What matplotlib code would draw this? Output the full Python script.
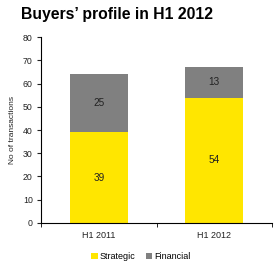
import matplotlib.pyplot as plt
import numpy as np

plt.rcParams['font.family'] = ['Liberation Sans', 'DejaVu Sans']

periods = ['H1 2011', 'H1 2012']
strategic = [39, 54]
financial = [25, 13]
yticks = [0, 10, 20, 30, 40, 50, 60, 70, 80]

fig = plt.figure(figsize=(2.79, 2.67), dpi=100)
ax = fig.add_axes([0.147, 0.165, 0.828, 0.696])

x = np.arange(len(periods))
b1 = ax.bar(x, strategic, width=0.5, color='#FFE600', label='Strategic')
b2 = ax.bar(x, financial, width=0.5, bottom=strategic, color='#808080', label='Financial')

for i in range(len(periods)):
    ax.text(x[i], strategic[i] / 2, str(strategic[i]), ha='center', va='center', fontsize=7.2, color='#222222')
    ax.text(x[i], strategic[i] + financial[i] / 2, str(financial[i]), ha='center', va='center', fontsize=7.2, color='#222222')

ax.set_xlim(-0.5, 1.5)
ax.set_ylim(0, 80)
ax.set_yticks(yticks)
ax.set_xticks(x)
ax.set_xticklabels(periods)
ax.set_xticks([-0.5, 0.5, 1.5], minor=True)
ax.tick_params(axis='x', which='major', length=0, labelsize=6.5, pad=6, colors='#222222')
ax.tick_params(axis='x', which='minor', length=3, direction='out')
ax.tick_params(axis='y', length=3, labelsize=6.3, pad=3, colors='#222222')
ax.spines['top'].set_visible(False)
ax.spines['right'].set_visible(False)
ax.spines['left'].set_linewidth(0.8)
ax.spines['bottom'].set_linewidth(0.8)
ax.set_ylabel('No of transactions', fontsize=6, color='#222222', labelpad=5)

fig.text(0.075, 0.945, 'Buyers\u2019 profile in H1 2012', fontsize=11.3, fontweight='bold', ha='left', va='center')

fig.legend(handles=[b1, b2], loc='center', bbox_to_anchor=(0.505, 0.04), ncol=2, frameon=False,
           fontsize=6.5, handlelength=0.7, handleheight=0.7, handletextpad=0.2, columnspacing=1.2)

fig.savefig('out.png', dpi=100)
